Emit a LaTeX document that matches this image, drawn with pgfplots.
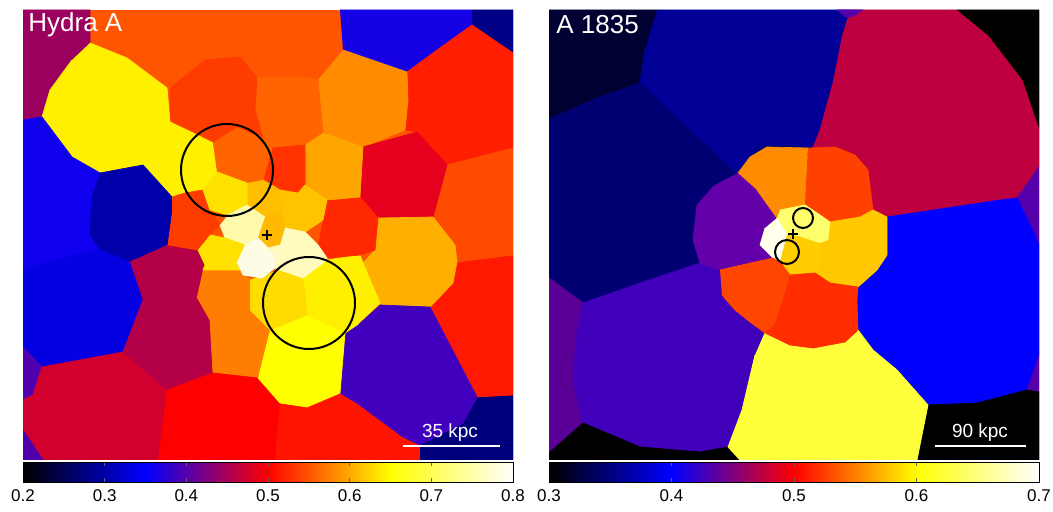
\documentclass[border=0pt]{standalone}
\usepackage{fontspec}
\setmainfont{Liberation Sans}
\usepackage{pgfplots}
\pgfplotsset{compat=1.18}
\newcommand{\cell}[4]{\addplot[draw={rgb,255:red,#1;green,#2;blue,#3},fill={rgb,255:red,#1;green,#2;blue,#3},line width=0.35pt,line join=round] coordinates {#4};}
\pgfplotsset{
  panel/.style={scale only axis, width=245pt, height=225pt, y dir=reverse, hide axis, anchor=south west,
    colormap={heat}{rgb255=(0,0,0) rgb255=(0,0,255) rgb255=(255,0,0) rgb255=(255,255,0) rgb255=(255,255,255)},
    colorbar horizontal,
    colorbar style={at={(parent axis.south west)}, anchor=north west, yshift=7.5pt,
      scale only axis, width=245pt, height=10pt,
      /pgf/number format/assume math mode=true,
      xticklabel style={font=\fontsize{8.5}{10}\selectfont, /pgf/number format/fixed, /pgf/number format/fixed zerofill, /pgf/number format/precision=1},
      major tick length=2pt, tick style={black!60}, axis line style={black, line width=0.5pt}}},
  }
\begin{document}
\begin{tikzpicture}
\useasboundingbox (0,0) rectangle (526.5pt,256pt);
% ---------------- Hydra A ----------------
\begin{axis}[panel, at={(11.5pt,26pt)}, xmin=23, xmax=513, ymin=10, ymax=460,
  point meta min=0.2, point meta max=0.8,
  colorbar style={xtick={0.2,0.3,0.4,0.5,0.6,0.7,0.8}}]
\cell{255}{85}{0}{(23,10) (513,10) (513,460) (23,460)}
\cell{155}{0}{95}{(23,10) (90,10) (90,43) (72,60) (50,90) (42,117) (23,120)}
\cell{22}{0}{230}{(340,10) (472,10) (472,25) (433,53) (407,72) (343,50)}
\cell{0}{0}{135}{(472,10) (513,10) (513,53) (472,25)}
\cell{255}{30}{0}{(407,72) (433,53) (472,25) (513,53) (513,148) (447,165) (417,132) (405,130) (408,100)}
\cell{255}{140}{0}{(343,50) (407,72) (408,100) (405,130) (363,147) (323,133) (318,80)}
\cell{255}{100}{0}{(257,78) (300,77) (318,80) (323,133) (305,145) (272,148) (263,138) (255,110)}
\cell{255}{60}{0}{(170,88) (205,60) (240,57) (257,78) (255,110) (263,138) (237,128) (213,143) (187,130) (170,122)}
\cell{255}{240}{0}{(90,43) (127,58) (167,88) (170,122) (187,130) (213,143) (217,172) (203,190) (185,193) (172,197) (143,165) (100,173) (72,157) (42,117) (50,90) (72,60)}
\cell{15}{0}{240}{(23,120) (42,117) (72,157) (100,173) (92,195) (90,235) (100,250) (60,258) (23,270)}
\cell{0}{0}{170}{(100,173) (143,165) (172,197) (172,215) (168,245) (130,262) (100,250) (90,235) (92,195)}
\cell{5}{0}{225}{(23,270) (60,258) (100,250) (130,262) (143,300) (123,352) (42,367) (23,347)}
\cell{80}{0}{175}{(23,347) (42,367) (33,395) (23,400)}
\cell{210}{0}{45}{(23,400) (33,395) (42,367) (123,352) (167,390) (158,460) (43,460) (23,430)}
\cell{80}{0}{170}{(23,430) (43,460) (23,460)}
\cell{180}{0}{70}{(130,262) (168,245) (198,250) (205,265) (203,270) (197,297) (210,320) (213,373) (167,390) (123,352) (143,300)}
\cell{255}{60}{0}{(172,197) (185,193) (203,190) (210,210) (220,225) (210,235) (198,250) (168,245) (172,215)}
\cell{255}{125}{0}{(203,270) (240,270) (250,280) (250,310) (270,330) (258,378) (213,373) (210,320) (197,297)}
\cell{255}{0}{0}{(167,390) (213,373) (258,378) (280,403) (275,460) (158,460)}
\cell{255}{20}{0}{(280,403) (307,407) (342,393) (357,403) (403,437) (420,445) (420,460) (275,460)}
\cell{0}{0}{125}{(420,445) (477,397) (513,395) (513,460) (420,460)}
\cell{255}{25}{0}{(430,307) (455,262) (513,255) (513,395) (477,397)}
\cell{255}{75}{0}{(447,165) (513,148) (513,255) (457,262) (455,245) (433,217)}
\cell{230}{0}{30}{(363,147) (417,132) (447,165) (433,217) (380,220) (360,197)}
\cell{255}{175}{0}{(378,218) (433,217) (455,245) (457,262) (453,283) (430,307) (380,305) (363,263) (375,250)}
\cell{65}{0}{190}{(380,305) (430,307) (477,397) (463,423) (420,445) (403,437) (357,403) (340,393) (345,333) (357,325)}
\cell{255}{255}{0}{(270,330) (307,315) (345,333) (340,393) (307,407) (280,403) (258,378)}
\cell{255}{240}{0}{(303,278) (327,260) (360,255) (363,263) (380,303) (357,325) (345,333) (307,315)}
\cell{255}{220}{0}{(250,280) (280,270) (303,278) (307,315) (270,330) (250,310)}
\cell{255}{40}{0}{(323,220) (327,200) (360,197) (378,218) (375,250) (360,255) (327,258) (318,245)}
\cell{255}{165}{0}{(323,133) (363,147) (360,197) (327,200) (305,185) (305,145)}
\cell{255}{50}{0}{(272,148) (305,145) (305,185) (298,193) (280,190) (263,180)}
\cell{255}{100}{0}{(213,143) (237,128) (263,138) (272,148) (263,180) (247,183) (217,172)}
\cell{255}{190}{0}{(263,180) (280,190) (282,213) (265,217) (247,205) (247,183)}
\cell{255}{195}{0}{(280,190) (298,193) (305,185) (327,200) (323,220) (305,232) (285,228) (282,213)}
\cell{255}{225}{0}{(217,172) (247,183) (247,205) (228,215) (210,210) (203,190)}
\cell{255}{250}{170}{(228,215) (247,205) (265,217) (258,238) (245,245) (225,238) (220,225)}
\cell{255}{185}{0}{(265,217) (282,213) (285,228) (280,245) (268,248) (258,238)}
\cell{255}{225}{0}{(210,235) (225,238) (245,245) (237,262) (240,270) (203,270) (205,265) (198,250)}
\cell{255}{252}{230}{(245,245) (258,238) (268,248) (275,255) (275,268) (262,278) (243,275) (237,262)}
\cell{255}{250}{190}{(285,228) (305,232) (318,245) (327,258) (327,260) (303,278) (280,270) (275,268) (275,255) (268,248) (280,245)}
\addplot[only marks, mark=o, mark size=23pt, mark options={black, line width=1pt}] coordinates {(227,170) (309,303)};
\addplot[only marks, mark=+, mark size=2.6pt, mark options={black, line width=1pt}] coordinates {(267,235)};
\addplot[white, line width=0.6pt] coordinates {(403,446) (500,446)};
\node[white, font=\fontsize{9.5}{11}\selectfont] at (axis cs:450,433) {35 kpc};
\node[white, anchor=west, inner sep=2pt, font=\fontsize{13}{15}\selectfont] at (axis cs:24,25) {Hydra A};
\end{axis}
% ---------------- A 1835 ----------------
\begin{axis}[panel, at={(274.5pt,26pt)}, xmin=549, xmax=1039, ymin=10, ymax=460,
  point meta min=0.3, point meta max=0.7,
  colorbar style={xtick={0.3,0.4,0.5,0.6,0.7}}]
\cell{0}{0}{115}{(549,10) (1039,10) (1039,460) (549,460)}
\cell{0}{0}{50}{(549,10) (657,10) (645,50) (640,82) (597,97) (549,118)}
\cell{0}{0}{150}{(657,10) (850,10) (843,33) (833,83) (820,130) (812,150) (790,145) (760,145) (737,173) (640,82) (645,50)}
\cell{190}{0}{65}{(850,10) (957,10) (990,37) (1023,80) (1039,127) (1039,167) (1017,198) (1000,200) (887,217) (873,210) (868,170) (855,155) (835,147) (812,150) (820,130) (833,83) (843,33)}
\cell{85}{0}{170}{(837,10) (863,10) (852,17) (845,17)}
\cell{0}{0}{0}{(957,10) (1039,10) (1039,127) (1023,80) (990,37)}
\cell{85}{0}{170}{(1039,167) (1017,198) (1030,225) (1039,245)}
\cell{0}{0}{255}{(887,217) (1000,200) (1017,198) (1030,225) (1039,245) (1039,355) (1027,390) (977,403) (928,405) (897,370) (873,350) (858,330) (857,290) (887,255)}
\cell{85}{0}{170}{(1039,355) (1027,390) (1039,392)}
\cell{0}{0}{0}{(928,405) (977,403) (1027,390) (1039,392) (1039,460) (917,460)}
\cell{90}{0}{150}{(549,278) (583,303) (577,330) (573,380) (583,423) (549,453)}
\cell{65}{0}{185}{(583,303) (640,283) (700,263) (720,270) (722,295) (735,310) (750,322) (765,332) (755,355) (742,410) (728,447) (700,452) (640,447) (583,423) (573,380) (577,330)}
\cell{0}{0}{0}{(549,453) (583,423) (640,447) (700,452) (728,447) (740,460) (549,460)}
\cell{255}{255}{60}{(765,332) (790,345) (813,348) (845,342) (858,330) (873,350) (897,370) (928,405) (917,460) (740,460) (728,447) (742,410) (755,355)}
\cell{100}{0}{170}{(738,173) (757,190) (777,218) (765,228) (760,245) (773,258) (755,262) (720,270) (700,263) (693,240) (697,205) (715,185)}
\cell{255}{140}{0}{(738,173) (750,157) (767,147) (808,148) (805,205) (780,210) (777,218) (757,190)}
\cell{255}{65}{0}{(808,148) (835,147) (855,155) (868,170) (873,210) (860,217) (830,222) (820,215) (805,205)}
\cell{255}{200}{0}{(830,222) (860,217) (873,210) (887,217) (887,255) (877,270) (858,287) (830,283) (815,273) (822,260) (818,243) (828,240)}
\cell{255}{255}{110}{(780,210) (805,205) (820,215) (830,222) (828,240) (818,243) (800,237) (787,235) (777,218)}
\cell{255}{255}{235}{(777,218) (787,235) (780,262) (773,258) (760,245) (765,228)}
\cell{255}{205}{0}{(787,235) (800,237) (818,243) (822,260) (815,273) (790,275) (780,262)}
\cell{255}{70}{0}{(720,270) (755,262) (773,258) (780,262) (790,275) (783,300) (775,325) (765,333) (750,322) (735,310) (722,295)}
\cell{255}{45}{0}{(790,275) (815,273) (830,283) (858,287) (857,300) (858,330) (845,342) (813,348) (790,345) (765,333) (775,325) (783,300)}
\addplot[only marks, mark=o, mark size=5pt, mark options={black, line width=1pt}] coordinates {(803,218)};
\addplot[only marks, mark=o, mark size=6pt, mark options={black, line width=1pt}] coordinates {(787,252)};
\addplot[only marks, mark=+, mark size=2.6pt, mark options={black, line width=1pt}] coordinates {(793,234)};
\addplot[white, line width=0.6pt] coordinates {(935,446) (1026,446)};
\node[white, font=\fontsize{9.5}{11}\selectfont] at (axis cs:980,433) {90 kpc};
\node[white, anchor=west, inner sep=2pt, font=\fontsize{13}{15}\selectfont] at (axis cs:552,25) {A 1835};
\end{axis}
\end{tikzpicture}
\end{document}
